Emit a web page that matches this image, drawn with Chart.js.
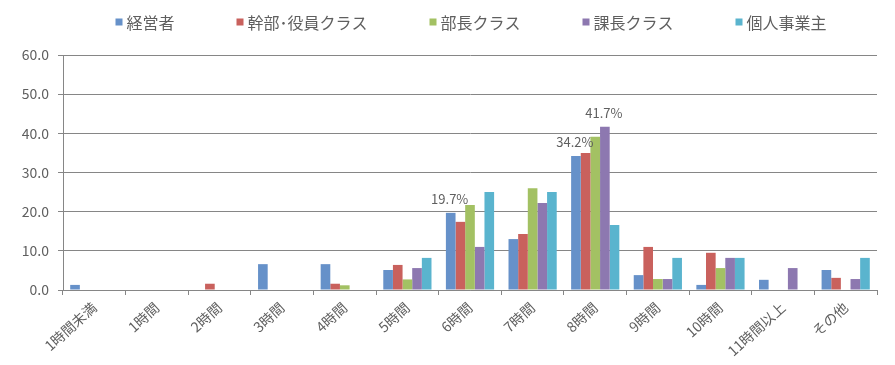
<!DOCTYPE html>
<html>
<head>
<meta charset="utf-8">
<script src="https://cdn.jsdelivr.net/npm/chart.js@4"></script>
<style>
    html, body { margin : 0 ; padding : 0 ; background : #ffffff ; }
    #wrap { width : 895px ; height : 365px ; position : relative ; }
</style>
</head>
<body>
<div id="wrap"><canvas id="sleepChartCanvas"></canvas></div>
<script>
    // ---------------- Data --------------------------------------------------
    var categories = [ '1時間未満', '1時間', '2時間', '3時間', '4時間', '5時間',
                       '6時間', '7時間', '8時間', '9時間', '10時間',
                       '11時間以上', 'その他' ] ;

    var seriesNames = [ '経営者', '幹部･役員クラス', '部長クラス', '課長クラス', '個人事業主' ] ;

    var keieishaData  = [ 1.3, 0, 0,   6.6, 6.6, 5.1, 19.7, 13.0, 34.2,  3.8, 1.3, 2.6, 5.1 ] ;
    var kanbuData     = [ 0,   0, 1.6, 0,   1.6, 6.4, 17.4, 14.3, 35.0, 11.0, 9.5, 0,   3.1 ] ;
    var buchoData     = [ 0,   0, 0,   0,   1.2, 2.7, 21.7, 26.0, 39.1,  2.8, 5.6, 0,   0   ] ;
    var kachoData     = [ 0,   0, 0,   0,   0,   5.6, 11.0, 22.2, 41.7,  2.8, 8.2, 5.6, 2.8 ] ;
    var kojinData     = [ 0,   0, 0,   0,   0,   8.2, 25.0, 25.0, 16.6,  8.2, 8.2, 0,   8.2 ] ;

    var yTickValues   = [ 0, 10, 20, 30, 40, 50, 60 ] ;

    // [ series index, category index ] of the bars which carry a value label
    var labelledBars  = [ [ 0, 6 ], [ 0, 8 ], [ 3, 8 ] ] ;

    // ---------------- Styles ------------------------------------------------
    var seriesColors = [ '#6691C9', '#C9615D', '#A3C163', '#8D78B0', '#5AB4CE' ] ;
    var axisColor    = '#868686' ;
    var textColor    = '#5f5f5f' ;
    var fontFamily   = '"Noto Sans CJK JP", "Noto Sans", sans-serif' ;

    // ---------------- Plugins -----------------------------------------------
    var spacedLegend = {
        id : 'spacedLegend',
        afterDraw : function( chart ) {

            var ctx = chart.ctx ;
            var boxSize = 7 ;
            var boxGap  = 4 ;
            var itemGap = 62 ;

            ctx.save() ;
            ctx.font = '16px ' + fontFamily ;
            ctx.textBaseline = 'middle' ;

            var widths = seriesNames.map( function( name ) {
                return boxSize + boxGap + ctx.measureText( name ).width ;
            } ) ;
            var total = widths.reduce( function( a, b ) { return a + b ; }, 0 ) +
                        itemGap * ( widths.length - 1 ) ;

            var x = ( chart.chartArea.left + chart.chartArea.right ) / 2 - total / 2 + 1 ;
            var y = 22 ;

            for( var i = 0; i < seriesNames.length; i++ ) {
                ctx.fillStyle = seriesColors[i] ;
                ctx.fillRect( x, y - boxSize / 2, boxSize, boxSize ) ;
                ctx.fillStyle = textColor ;
                ctx.fillText( seriesNames[i], x + boxSize + boxGap, y + 1 ) ;
                x += widths[i] + itemGap ;
            }
            ctx.restore() ;
        }
    } ;

    var barValueLabels = {
        id : 'barValueLabels',
        afterDatasetsDraw : function( chart ) {

            var ctx = chart.ctx ;
            ctx.save() ;
            ctx.font = '13px ' + fontFamily ;
            ctx.fillStyle = textColor ;
            ctx.textAlign = 'center' ;
            ctx.textBaseline = 'middle' ;

            labelledBars.forEach( function( ref ) {
                var ds  = chart.data.datasets[ ref[0] ] ;
                var bar = chart.getDatasetMeta( ref[0] ).data[ ref[1] ] ;
                var text = ds.data[ ref[1] ].toFixed( 1 ) + '%' ;
                ctx.fillText( text, bar.x - 1, bar.y - 14 ) ;
            } ) ;
            ctx.restore() ;
        }
    } ;

    // ---------------- Chart -------------------------------------------------
    var allSeries = [ keieishaData, kanbuData, buchoData, kachoData, kojinData ] ;

    var datasets = allSeries.map( function( values, i ) {
        return {
            label              : seriesNames[i],
            data               : values,
            backgroundColor    : seriesColors[i],
            borderWidth        : 0,
            barPercentage      : 1.0,
            categoryPercentage : 0.77
        } ;
    } ) ;

    var canvas = document.getElementById( 'sleepChartCanvas' ) ;
    var chart = new Chart( canvas, {
        type : 'bar',
        data : {
            labels   : categories,
            datasets : datasets
        },
        plugins : [ spacedLegend, barValueLabels ],
        options : {
            responsive          : true,
            maintainAspectRatio : false,
            animation           : false,
            layout : {
                padding : { top : 55, right : 18, bottom : 0, left : 0 }
            },
            plugins : {
                legend  : { display : false },
                tooltip : { enabled : false }
            },
            scales : {
                x : {
                    afterFit : function( scale ) { scale.height = 75 ; },
                    grid : {
                        display         : true,
                        offset          : true,
                        drawOnChartArea : false,
                        drawTicks       : true,
                        tickLength      : 5,
                        color           : axisColor
                    },
                    border : { display : true, color : axisColor, width : 1 },
                    ticks : {
                        color       : textColor,
                        font        : { family : fontFamily, size : 14 },
                        minRotation : 42,
                        maxRotation : 42,
                        padding     : 4,
                        autoSkip    : false
                    }
                },
                y : {
                    min : 0,
                    max : 60,
                    afterFit : function( scale ) { scale.width = 63 ; },
                    afterBuildTicks : function( scale ) {
                        scale.ticks = yTickValues.map( function( v ) { return { value : v } ; } ) ;
                    },
                    grid : {
                        color      : axisColor,
                        lineWidth  : 1,
                        drawTicks  : true,
                        tickLength : 5
                    },
                    border : { display : true, color : axisColor, width : 1 },
                    ticks : {
                        color    : textColor,
                        font     : { family : fontFamily, size : 14 },
                        padding  : 9,
                        callback : function( value ) {
                            return Number( value ).toFixed( 1 ) ;
                        }
                    }
                }
            }
        }
    } ) ;
</script>
</body>
</html>
